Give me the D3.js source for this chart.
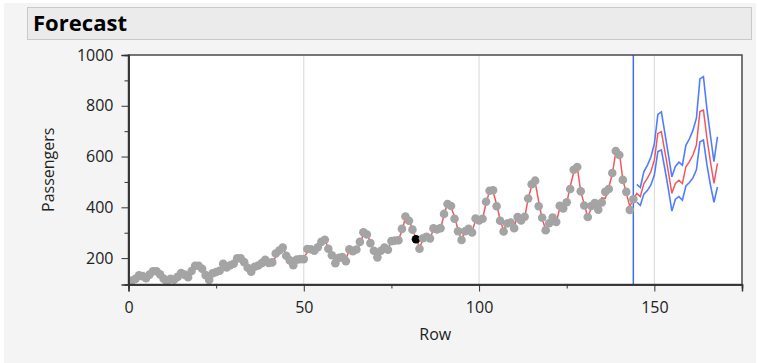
<!DOCTYPE html>
<html>
<head>
<meta charset="utf-8">
<script src="https://cdn.jsdelivr.net/npm/d3@7"></script>
<style>
  body { margin: 0; background: #fff; }
  text { font-family: "Open Sans", "Segoe UI", sans-serif; }
</style>
</head>
<body>
<div id="chart"></div>
<script>
// Actual monthly passengers, rows 1..144
const passengers = [
  112, 118, 132, 129, 121, 135, 148, 148, 136, 119, 104, 118,
  115, 126, 141, 135, 125, 149, 170, 170, 158, 133, 114, 140,
  145, 150, 178, 163, 172, 178, 199, 199, 184, 162, 146, 166,
  171, 180, 193, 181, 183, 218, 230, 242, 209, 191, 172, 194,
  196, 196, 236, 235, 229, 243, 264, 272, 237, 211, 180, 201,
  204, 188, 235, 227, 234, 264, 302, 293, 259, 229, 203, 229,
  242, 233, 267, 269, 270, 315, 364, 347, 312, 274, 237, 278,
  284, 277, 317, 313, 318, 374, 413, 405, 355, 306, 271, 306,
  315, 301, 356, 348, 355, 422, 465, 467, 404, 347, 305, 336,
  340, 318, 362, 348, 363, 435, 491, 505, 404, 359, 310, 337,
  360, 342, 406, 396, 420, 472, 548, 559, 463, 407, 362, 405,
  417, 391, 419, 461, 472, 535, 622, 606, 508, 461, 390, 432
];

// One-step-ahead predictions, rows 14..144
const fittedStart = 14;
const fitted = [
  124, 141, 137, 126, 144, 166, 170, 158, 137, 116, 134,
  141, 153, 172, 168, 163, 187, 199, 199, 186, 161, 145, 169,
  171, 178, 201, 180, 187, 204, 235, 236, 218, 189, 174, 193,
  198, 201, 223, 230, 233, 254, 260, 274, 238, 215, 186, 202,
  204, 196, 232, 231, 228, 256, 294, 302, 259, 231, 201, 227,
  237, 230, 274, 264, 273, 308, 359, 351, 313, 278, 243, 271,
  288, 276, 314, 316, 316, 369, 418, 401, 363, 312, 270, 309,
  314, 305, 349, 350, 354, 417, 463, 462, 411, 351, 309, 338,
  343, 322, 368, 351, 359, 433, 485, 499, 423, 353, 314, 339,
  351, 340, 396, 394, 416, 482, 538, 561, 461, 413, 360, 397,
  423, 395, 437, 435, 479, 530, 617, 620, 509, 457, 403, 433
];

// Forecast, rows 145..168
const forecastStart = 145;
const forecast = [
  455, 442, 494, 514, 540, 586, 691, 698, 619, 540, 455, 494,
  507, 494, 560, 580, 606, 645, 777, 783, 672, 580, 494, 573
];
const upper = [
  490, 478, 540, 565, 597, 650, 766, 776, 692, 608, 520, 561,
  578, 566, 644, 670, 703, 751, 906, 915, 787, 682, 580, 678
];
const lower = [
  420, 408, 452, 466, 488, 527, 620, 626, 551, 472, 385, 432,
  442, 428, 484, 498, 516, 548, 658, 665, 567, 488, 420, 480
];

const selectedRow = 82;
const forecastOrigin = 144;
const xMajorTicks = [0, 50, 100, 150];
const xMinorTicks = [25, 75, 125, 175];
const yMajorTicks = [200, 400, 600, 800, 1000];
const yMinorTicks = [300, 500, 700, 900];

const W = 758, H = 363;
const plot = { left: 128.5, right: 742, top: 55, bottom: 284.5 };

const svg = d3.select('#chart').append('svg')
  .attr('width', W).attr('height', H);

// panel background
svg.append('rect').attr('x', 4).attr('y', 3).attr('width', W - 6).attr('height', H - 3)
  .attr('fill', '#f4f4f4');

// title bar
svg.append('rect').attr('x', 27.5).attr('y', 7.5).attr('width', 724).attr('height', 32)
  .attr('fill', '#ebebeb').attr('stroke', '#c9c9c9');
svg.append('text').attr('x', 33).attr('y', 31)
  .attr('font-size', 21).attr('font-weight', 'bold').attr('fill', '#000')
  .attr('textLength', 94).attr('lengthAdjust', 'spacingAndGlyphs')
  .text('Forecast');

const x = d3.scaleLinear().domain([0, 175]).range([plot.left, plot.right]);
const y = d3.scaleLinear().domain([96, 1000]).range([plot.bottom, plot.top]);

// plot area
svg.append('rect')
  .attr('x', plot.left).attr('y', plot.top)
  .attr('width', plot.right - plot.left).attr('height', plot.bottom - plot.top)
  .attr('fill', '#fff');

svg.append('clipPath').attr('id', 'clip').append('rect')
  .attr('x', plot.left).attr('y', plot.top)
  .attr('width', plot.right - plot.left).attr('height', plot.bottom - plot.top);

const g = svg.append('g').attr('clip-path', 'url(#clip)');

// vertical grid
g.selectAll('line.grid').data(xMajorTicks.filter(d => d > 0)).join('line')
  .attr('x1', d => x(d)).attr('x2', d => x(d))
  .attr('y1', plot.top).attr('y2', plot.bottom)
  .attr('stroke', '#d6d6d6').attr('stroke-width', 1);

// forecast origin marker
g.append('line')
  .attr('x1', x(forecastOrigin)).attr('x2', x(forecastOrigin))
  .attr('y1', plot.top).attr('y2', plot.bottom)
  .attr('stroke', '#3d6ff2').attr('stroke-width', 1.5);

const line = d3.line().x(d => x(d[0])).y(d => y(d[1]));

const predSeries = fitted.map((v, i) => [fittedStart + i, v])
  .concat(forecast.map((v, i) => [forecastStart + i, v]));
const upperSeries = upper.map((v, i) => [forecastStart + i, v]);
const lowerSeries = lower.map((v, i) => [forecastStart + i, v]);

[upperSeries, lowerSeries].forEach(s => {
  g.append('path').datum(s).attr('d', line)
    .attr('fill', 'none').attr('stroke', '#4f7dff').attr('stroke-width', 1.6);
});
g.append('path').datum(predSeries).attr('d', line)
  .attr('fill', 'none').attr('stroke', '#f5565c').attr('stroke-width', 1.5);

// data points
g.selectAll('circle.pt').data(passengers.map((v, i) => [i + 1, v])).join('circle')
  .attr('cx', d => x(d[0])).attr('cy', d => y(d[1])).attr('r', 4.3)
  .attr('fill', d => d[0] === selectedRow ? '#000' : '#a4a4a4');

// frame
svg.append('rect')
  .attr('x', plot.left).attr('y', plot.top)
  .attr('width', plot.right - plot.left).attr('height', plot.bottom - plot.top)
  .attr('fill', 'none').attr('stroke', '#4a4a4a').attr('stroke-width', 1.5);

// axes
svg.append('g').attr('transform', `translate(0,${plot.bottom})`)
  .call(d3.axisBottom(x).tickValues(xMajorTicks).tickSize(7).tickPadding(10)
    .tickFormat(d3.format('d')));
svg.append('g').attr('transform', `translate(0,${plot.bottom})`)
  .call(d3.axisBottom(x).tickValues(xMinorTicks).tickSize(4).tickFormat(''));
svg.append('g').attr('transform', `translate(${plot.left},0)`)
  .call(d3.axisLeft(y).tickValues(yMajorTicks).tickSize(7).tickPadding(8)
    .tickFormat(d3.format('d')));
svg.append('g').attr('transform', `translate(${plot.left},0)`)
  .call(d3.axisLeft(y).tickValues(yMinorTicks).tickSize(4).tickFormat(''));

svg.selectAll('.domain').attr('stroke', '#333').attr('stroke-width', 1.5);
svg.selectAll('.tick line').attr('stroke', '#333');
svg.selectAll('.tick text').attr('font-size', 16).attr('fill', '#222')
  .attr('font-family', '"Open Sans", sans-serif');

// axis titles
svg.append('text').attr('x', x(87.5)).attr('y', 340)
  .attr('text-anchor', 'middle').attr('font-size', 16).attr('fill', '#222')
  .text('Row');
svg.append('text')
  .attr('transform', `translate(54,${(plot.top + plot.bottom) / 2}) rotate(-90)`)
  .attr('text-anchor', 'middle').attr('font-size', 16).attr('fill', '#222')
  .text('Passengers');
</script>
</body>
</html>
